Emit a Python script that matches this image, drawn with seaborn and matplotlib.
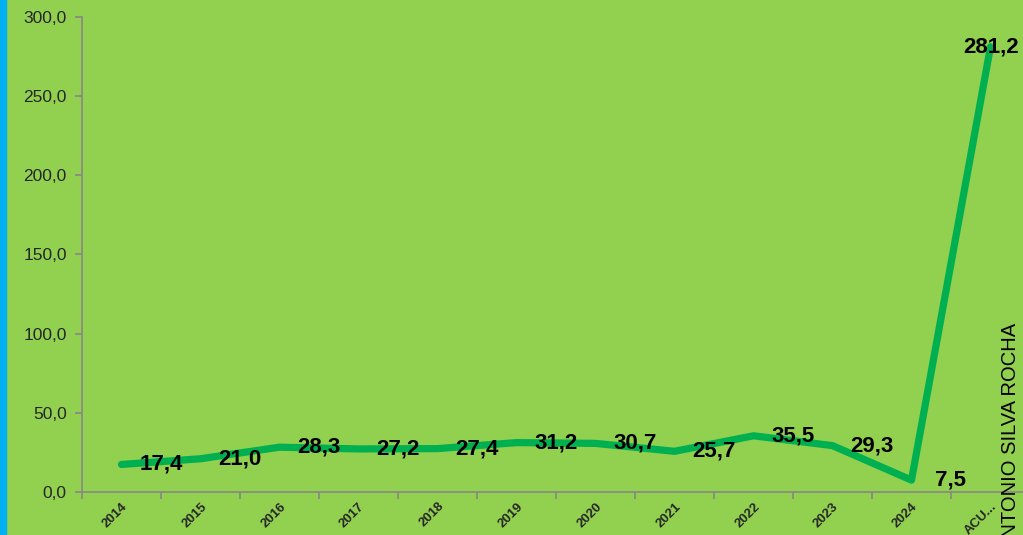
import numpy as np
import matplotlib
matplotlib.use("Agg")
import matplotlib.pyplot as plt
import seaborn as sns
from matplotlib.ticker import FuncFormatter, FixedLocator

# data
categories = ['2014', '2015', '2016', '2017', '2018', '2019', '2020',
              '2021', '2022', '2023', '2024', 'ACU...']
values = [17.4, 21.0, 28.3, 27.2, 27.4, 31.2, 30.7, 25.7, 35.5, 29.3, 7.5, 281.2]
y_ticks = [0, 50, 100, 150, 200, 250, 300]
author = 'ANTONIO SILVA ROCHA'

BG = '#92D050'
LINE = '#00B050'
AXIS = '#868686'

sns.set_theme(style='white')
plt.rcParams['font.family'] = ['Liberation Sans', 'DejaVu Sans']

fig = plt.figure(figsize=(10.23, 5.35), dpi=100)
fig.patch.set_facecolor(BG)

# blue strip at the left edge
fig.add_artist(plt.Rectangle((0, 0), 6 / 1023, 1, transform=fig.transFigure,
                             color='#00B0F0', zorder=0))

ax = fig.add_axes([82 / 1023, 43 / 535, 948 / 1023, 475 / 535])
ax.set_facecolor(BG)

x = np.arange(len(values))
sns.lineplot(x=x, y=values, ax=ax, color=LINE, linewidth=5.2,
             solid_capstyle='round', solid_joinstyle='round')

ax.set_xlim(-0.5, len(values) - 0.5)
ax.set_ylim(0, 300)
ax.set_yticks(y_ticks)
ax.yaxis.set_major_formatter(FuncFormatter(lambda v, p: f'{v:.1f}'.replace('.', ',')))

ax.set_xticks(x)
ax.set_xticklabels(categories, rotation=45, ha='right', rotation_mode='anchor',
                   fontsize=9.5, fontweight='bold')
ax.xaxis.set_minor_locator(FixedLocator(np.arange(-0.5, len(values), 1)))
ax.tick_params(axis='x', which='major', length=0, pad=6)
ax.tick_params(axis='x', which='minor', length=5, color=AXIS, width=1.2, direction='out')
ax.tick_params(axis='y', length=5, color=AXIS, width=1.2, direction='out',
               labelsize=12.5, pad=6)
ax.tick_params(axis='x', bottom=True, which='both')
ax.tick_params(axis='y', left=True)

for side in ['top', 'right']:
    ax.spines[side].set_visible(False)
for side in ['left', 'bottom']:
    ax.spines[side].set_color(AXIS)
    ax.spines[side].set_linewidth(1.2)

# data labels (sit half a category to the right, as in the source)
for i, v in enumerate(values):
    lx = i + 0.5 if i < len(values) - 1 else i + 0.01
    ax.text(lx, v, f'{v:.1f}'.replace('.', ','), ha='center', va='center',
            fontsize=16, fontweight='bold', color='black', clip_on=False)

fig.text(1010 / 1023, -0.03, author, rotation=90, ha='center', va='bottom',
         fontsize=14.5, color='black')

fig.savefig('out.png', dpi=100, facecolor=BG)
